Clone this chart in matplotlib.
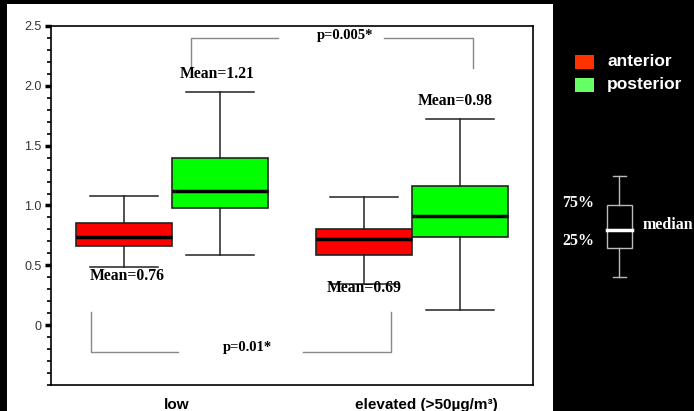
import numpy as np
import matplotlib.pyplot as plt
from matplotlib.patches import Rectangle
from matplotlib.ticker import MultipleLocator

# box statistics per group: [anterior, posterior]
groups = ["low", "elevated (>50\u00b5g/m\u00b3)"]
whislo = [[0.49, 0.59], [0.34, 0.125]]
q1 = [[0.66, 0.98], [0.59, 0.74]]
med = [[0.74, 1.12], [0.72, 0.91]]
q3 = [[0.85, 1.40], [0.80, 1.16]]
whishi = [[1.08, 1.95], [1.075, 1.725]]
means = [[0.76, 1.21], [0.69, 0.98]]
series = ["anterior", "posterior"]
box_colors = ["#ff0000", "#00ff00"]
legend_colors = ["#ff3300", "#66ff66"]

W, H = 694, 411
fig = plt.figure(figsize=(W / 100, H / 100), dpi=100, facecolor="black")
fig.patches.append(Rectangle((7 / W, 0), 546 / W, 407 / H, transform=fig.transFigure,
                             facecolor="white", edgecolor="none", zorder=-5))

ax = fig.add_axes([51 / W, 26 / H, 482 / W, 359 / H])
ax.set_facecolor("white")

positions = [[0.76, 1.76], [3.26, 4.26]]
for g in range(2):
    for s in range(2):
        stats = [dict(whislo=whislo[g][s], q1=q1[g][s], med=med[g][s],
                      q3=q3[g][s], whishi=whishi[g][s], fliers=[])]
        ax.bxp(stats, positions=[positions[g][s]], widths=1.0, patch_artist=True,
               showfliers=False,
               boxprops=dict(facecolor=box_colors[s], edgecolor="#222", linewidth=1.2),
               medianprops=dict(color="black", linewidth=2.5),
               whiskerprops=dict(color="#222", linewidth=1.1),
               capprops=dict(color="#222", linewidth=1.1),
               capwidths=0.7)

mean_pos = [[(0.79, 0.41), (1.73, 2.10)], [(3.26, 0.31), (4.21, 1.875)]]
for g in range(2):
    for s in range(2):
        x, y = mean_pos[g][s]
        ax.text(x, y, f"Mean={means[g][s]:.2f}", ha="center", va="center",
                fontsize=11.3, fontweight="bold", family="Liberation Serif")

# significance brackets
gray = "#888888"
ax.plot([1.458, 1.458, 2.365], [2.15, 2.40, 2.40], color=gray, lw=1)
ax.plot([3.47, 4.396, 4.396], [2.40, 2.40, 2.15], color=gray, lw=1)
ax.text(3.06, 2.417, "p=0.005*", ha="center", va="center", fontsize=10.5,
        fontweight="bold", family="Liberation Serif")
ax.plot([0.417, 0.417, 1.32], [0.108, -0.225, -0.225], color=gray, lw=1)
ax.plot([2.625, 3.54, 3.54], [-0.225, -0.225, 0.108], color=gray, lw=1)
ax.text(2.05, -0.19, "p=0.01*", ha="center", va="center", fontsize=10.5,
        fontweight="bold", family="Liberation Serif")

ax.set_xlim(0, 5.02)
ax.set_ylim(-0.5, 2.5)
ax.set_yticks([0, 0.5, 1.0, 1.5, 2.0, 2.5])
ax.set_yticklabels(["0", "0.5", "1.0", "1.5", "2.0", "2.5"], family="Liberation Sans")
ax.yaxis.set_minor_locator(MultipleLocator(0.1))
ax.tick_params(axis="y", which="major", length=4, width=2.5, labelsize=9,
               labelcolor="#333", pad=3)
ax.tick_params(axis="y", which="minor", length=3, width=1.2)
ax.set_xticks([1.31, 3.91])
ax.set_xticklabels(groups, fontsize=11, fontweight="bold", family="Liberation Sans")
ax.tick_params(axis="x", length=0, pad=9)
for sp in ax.spines.values():
    sp.set_linewidth(1.2)

# legend drawn on the black area
for i, (lab, col) in enumerate(zip(series, legend_colors)):
    y0 = 1 - (69 + 23 * i) / H
    fig.patches.append(Rectangle((575 / W, y0), 19 / W, 14 / H, transform=fig.transFigure,
                                 facecolor=col, edgecolor="none"))
    fig.text(607 / W, 1 - (62 + 23 * i) / H, lab, color="white", fontsize=12.5,
             fontweight="bold", family="Liberation Sans", va="center")

# box key
key = fig.add_axes([0, 0, 1, 1], facecolor="none")
key.set_xlim(0, W)
key.set_ylim(H, 0)
key.axis("off")
kc = "#bbbbbb"
key.add_patch(Rectangle((607, 205), 25, 43, facecolor="none", edgecolor=kc, lw=1))
key.plot([607, 632], [230, 230], color="white", lw=2.5)
key.plot([619.5, 619.5], [176, 205], color=kc, lw=1)
key.plot([619.5, 619.5], [248, 277], color=kc, lw=1)
key.plot([613, 626], [176, 176], color=kc, lw=1)
key.plot([613, 626], [277, 277], color=kc, lw=1)
for txt, x, y, ha in [("75%", 578, 203, "center"), ("25%", 578, 241, "center"),
                      ("median", 643, 225, "left")]:
    key.text(x, y, txt, color="white", fontsize=11.5, fontweight="bold",
             family="Liberation Serif", ha=ha, va="center")

fig.savefig("out.png", dpi=100, facecolor=fig.get_facecolor())
